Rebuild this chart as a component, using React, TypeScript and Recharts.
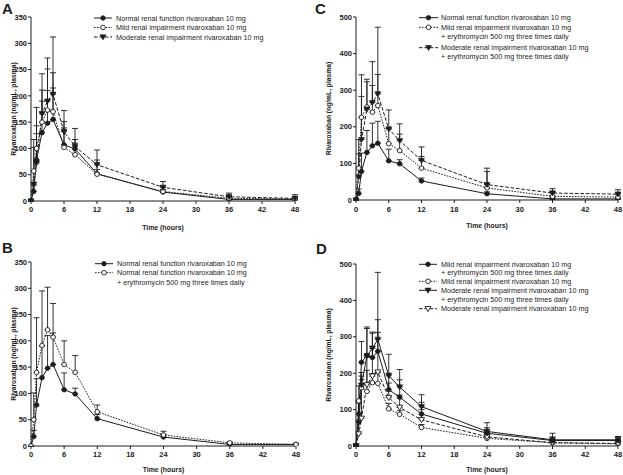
import React from 'react';
import { LineChart, Line, XAxis, YAxis, ErrorBar } from 'recharts';

// ---------- data ----------
const TIME = [0, 0.5, 1, 2, 3, 4, 6, 8, 12, 24, 36, 48];
const X_TICKS = [0, 6, 12, 18, 24, 30, 36, 42, 48];
const Y_TICKS_350 = [0, 50, 100, 150, 200, 250, 300, 350];
const Y_TICKS_500 = [0, 100, 200, 300, 400, 500];

const NORMAL = [0, 18, 78, 130, 148, 155, 107, 99, 52, 17, 3, 3];
const NORMAL_SD = [0, 12, 50, 60, 62, 60, 32, 11, 8, 5, 3, 1];

const MILD = [0, 57, 100, 150, 173, 170, 102, 88, 51, 18, 5, 4];
const MILD_SD = [0, 45, 43, 61, 78, 74, 49, 29, 27, 10, 5, 4];

const MODERATE = [0, 32, 72, 166, 190, 203, 132, 104, 69, 26, 8, 5];
const MODERATE_SD = [0, 85, 106, 76, 82, 109, 40, 34, 28, 11, 7, 7];

const NORMAL_ERY = [0, 50, 140, 191, 221, 207, 155, 140, 65, 21, 6, 3];
const NORMAL_ERY_SD = [0, 51, 104, 104, 81, 64, 45, 32, 13, 7, 2, 2];

const MILD_ERY = [0, 87, 226, 254, 240, 258, 154, 135, 87, 33, 10, 8];
const MILD_ERY_SD = [0, 78, 57, 69, 73, 85, 41, 45, 32, 45, 12, 12];

const MOD_ERY = [0, 63, 165, 248, 266, 290, 194, 162, 108, 42, 19, 16];
const MOD_ERY_SD = [0, 63, 177, 82, 112, 182, 52, 46, 37, 45, 12, 12];

const D_MILD_ERY = [0, 88, 230, 249, 243, 260, 155, 134, 88, 35, 15, 15];
const D_MILD_ERY_SD = [0, 77, 57, 78, 70, 87, 45, 48, 32, 15, 10, 11];
const D_MILD = [0, 124, 160, 150, 174, 172, 102, 87, 51, 21, 9, 6];
const D_MILD_SD = [0, 0, 32, 58, 25, 30, 15, 10, 8, 5, 3, 3];
const D_MOD_ERY = [0, 64, 167, 248, 268, 293, 193, 162, 108, 40, 17, 17];
const D_MOD_ERY_SD = [0, 62, 35, 75, 42, 184, 59, 48, 33, 24, 18, 9];
const D_MOD = [0, 33, 76, 168, 192, 203, 133, 106, 72, 25, 9, 7];
const D_MOD_SD = [0, 85, 106, 76, 82, 109, 40, 34, 28, 11, 7, 7];

const LBL_NORMAL = ['Normal renal function rivaroxaban 10 mg'];
const LBL_MILD = ['Mild renal impairment rivaroxaban 10 mg'];
const LBL_MOD = ['Moderate renal impairment rivaroxaban 10 mg'];
const LBL_NORMAL_ERY = ['Normal renal function rivaroxaban 10 mg', '+ erythromycin 500 mg three times daily'];
const LBL_MILD_ERY = ['Mild renal impairment rivaroxaban 10 mg', '+ erythromycin 500 mg three times daily'];
const LBL_MOD_ERY = ['Moderate renal impairment rivaroxaban 10 mg', '+ erythromycin 500 mg three times daily'];

// ---------- styling ----------
const FONT = '"Liberation Sans", Arial, Helvetica, sans-serif';
const INK = '#1c1c1c';
const DOTTED = '1.6 1.3';
const DASHED = '3.6 1.8';

type Kind = 'circleFilled' | 'circleOpen' | 'triFilled' | 'triOpen';

interface Series {
  key: string;
  mean: number[];
  sd: number[];
  kind: Kind;
  dash?: string;
  label: string[];
  ly: number[];
}

function Marker({ cx, cy, kind }: { cx: number; cy: number; kind: Kind }) {
  if (cx == null || cy == null) return null;
  if (kind === 'circleFilled') {
    return <circle cx={cx} cy={cy} r={2.3} fill={INK} stroke={INK} strokeWidth={0.7} />;
  }
  if (kind === 'circleOpen') {
    return <circle cx={cx} cy={cy} r={2.3} fill="#fff" stroke={INK} strokeWidth={0.9} />;
  }
  const pts = `${cx - 3},${cy - 2.2} ${cx + 3},${cy - 2.2} ${cx},${cy + 2.9}`;
  if (kind === 'triFilled') {
    return <polygon points={pts} fill={INK} stroke={INK} strokeWidth={0.6} />;
  }
  return <polygon points={pts} fill="#fff" stroke={INK} strokeWidth={0.9} />;
}

function XLabel(props: any) {
  const vb = props.viewBox || {};
  const x = vb.x + vb.width / 2;
  const y = vb.y + props.dyOff;
  return (
    <text x={x} y={y} textAnchor="middle" dominantBaseline="central" fontSize={6.9} fontWeight="bold" fill={INK} fontFamily={FONT}>
      Time (hours)
    </text>
  );
}

function YLabel(props: any) {
  const vb = props.viewBox || {};
  const x = props.labelX;
  const y = vb.y + vb.height / 2;
  return (
    <text x={x} y={y} transform={`rotate(-90 ${x} ${y})`} textAnchor="middle" dominantBaseline="central" fontSize={6.7} fontWeight="bold" fill={INK} fontFamily={FONT}>
      Rivaroxaban (ng/mL, plasma)
    </text>
  );
}

interface PanelCfg {
  letter: string;
  letterX: number;
  letterY: number;
  left: number;
  top: number;
  w: number;
  h: number;
  plotLeft: number;
  plotRight: number;
  plotTop: number;
  plotBottom: number;
  yMax: number;
  yTicks: number[];
  xTickMargin: number;
  xLabelDy: number;
  yLabelX: number;
  legX0: number;
  legX1: number;
  legTextX: number;
  series: Series[];
}

function Panel({ cfg }: { cfg: PanelCfg }) {
  const data = TIME.map((t, i) => {
    const row: any = { t };
    cfg.series.forEach((s) => {
      row[s.key] = s.mean[i];
      row[s.key + 'E'] = [0, s.sd[i]];
    });
    return row;
  });
  const tickStyle = { fontSize: 7.5, fontWeight: 'bold', fill: INK, fontFamily: FONT };
  return (
    <div style={{ position: 'absolute', left: cfg.left, top: cfg.top, width: cfg.w, height: cfg.h }}>
      <LineChart
        width={cfg.w}
        height={cfg.h}
        data={data}
        margin={{ top: cfg.plotTop, right: cfg.w - cfg.plotRight, left: 0, bottom: 0 }}
      >
        <XAxis
          type="number"
          dataKey="t"
          domain={[0, 48]}
          ticks={X_TICKS}
          interval={0}
          height={cfg.h - cfg.plotBottom}
          tickSize={3}
          tickMargin={cfg.xTickMargin}
          axisLine={{ stroke: INK, strokeWidth: 1 }}
          tickLine={{ stroke: INK, strokeWidth: 1 }}
          tick={tickStyle}
          label={<XLabel dyOff={cfg.xLabelDy} />}
        />
        <YAxis
          type="number"
          domain={[0, cfg.yMax]}
          ticks={cfg.yTicks}
          interval={0}
          allowDataOverflow
          width={cfg.plotLeft}
          tickSize={3}
          tickMargin={1}
          axisLine={{ stroke: INK, strokeWidth: 1 }}
          tickLine={{ stroke: INK, strokeWidth: 1 }}
          tick={tickStyle}
          label={<YLabel labelX={cfg.yLabelX} />}
        />
        {cfg.series.map((s) => (
          <Line
            key={s.key}
            dataKey={s.key}
            type="linear"
            stroke={INK}
            strokeWidth={1}
            strokeDasharray={s.dash}
            isAnimationActive={false}
            activeDot={false}
            dot={(p: any) => (
              <g key={`${s.key}-d-${p.index}`}>
                <Marker cx={p.cx} cy={p.cy} kind={s.kind} />
              </g>
            )}
          >
            <ErrorBar dataKey={s.key + 'E'} direction="y" width={3} stroke={INK} strokeWidth={0.9} isAnimationActive={false} />
          </Line>
        ))}
      </LineChart>
      <svg
        width={cfg.w}
        height={cfg.h}
        style={{ position: 'absolute', left: 0, top: 0, pointerEvents: 'none' }}
      >
        <text x={cfg.letterX} y={cfg.letterY} fontSize={15} fontWeight="bold" fill={INK} fontFamily={FONT}>
          {cfg.letter}
        </text>
        {cfg.series.map((s) => (
          <g key={'leg-' + s.key}>
            <line x1={cfg.legX0} x2={cfg.legX1} y1={s.ly[0]} y2={s.ly[0]} stroke={INK} strokeWidth={1} strokeDasharray={s.dash} />
            <Marker cx={(cfg.legX0 + cfg.legX1) / 2} cy={s.ly[0]} kind={s.kind} />
            {s.label.map((txt, j) => (
              <text key={j} x={cfg.legTextX} y={s.ly[j]} dominantBaseline="central" fontSize={7.2} fill={INK} fontFamily={FONT}>
                {txt}
              </text>
            ))}
          </g>
        ))}
      </svg>
    </div>
  );
}

const PANEL_A: PanelCfg = {
  letter: 'A', letterX: 2, letterY: 14,
  left: 0, top: 0, w: 311, h: 237,
  plotLeft: 31, plotRight: 295, plotTop: 17, plotBottom: 201,
  yMax: 350, yTicks: Y_TICKS_350, xTickMargin: 3, xLabelDy: 26, yLabelX: 13,
  legX0: 94, legX1: 112, legTextX: 116,
  series: [
    { key: 'normal', mean: NORMAL, sd: NORMAL_SD, kind: 'circleFilled', label: LBL_NORMAL, ly: [18] },
    { key: 'mild', mean: MILD, sd: MILD_SD, kind: 'circleOpen', dash: DOTTED, label: LBL_MILD, ly: [27.5] },
    { key: 'mod', mean: MODERATE, sd: MODERATE_SD, kind: 'triFilled', dash: DASHED, label: LBL_MOD, ly: [37] },
  ],
};

const PANEL_B: PanelCfg = {
  letter: 'B', letterX: 2, letterY: 16,
  left: 0, top: 237, w: 311, h: 238,
  plotLeft: 31, plotRight: 296, plotTop: 25, plotBottom: 209,
  yMax: 350, yTicks: Y_TICKS_350, xTickMargin: 3, xLabelDy: 23, yLabelX: 13,
  legX0: 95, legX1: 113, legTextX: 117,
  series: [
    { key: 'normal', mean: NORMAL, sd: NORMAL_SD, kind: 'circleFilled', label: LBL_NORMAL, ly: [26.7] },
    { key: 'normalEry', mean: NORMAL_ERY, sd: NORMAL_ERY_SD, kind: 'circleOpen', dash: DOTTED, label: LBL_NORMAL_ERY, ly: [35.7, 45.7] },
  ],
};

const PANEL_C: PanelCfg = {
  letter: 'C', letterX: 4, letterY: 14,
  left: 311, top: 0, w: 312, h: 237,
  plotLeft: 45, plotRight: 307, plotTop: 17, plotBottom: 200,
  yMax: 500, yTicks: Y_TICKS_500, xTickMargin: 4, xLabelDy: 25, yLabelX: 17,
  legX0: 108, legX1: 127, legTextX: 130,
  series: [
    { key: 'normal', mean: NORMAL, sd: NORMAL_SD, kind: 'circleFilled', label: LBL_NORMAL, ly: [17.7] },
    { key: 'mildEry', mean: MILD_ERY, sd: MILD_ERY_SD, kind: 'circleOpen', dash: DOTTED, label: LBL_MILD_ERY, ly: [27.3, 36.7] },
    { key: 'modEry', mean: MOD_ERY, sd: MOD_ERY_SD, kind: 'triFilled', dash: DASHED, label: LBL_MOD_ERY, ly: [47.7, 56.7] },
  ],
};

const PANEL_D: PanelCfg = {
  letter: 'D', letterX: 5, letterY: 17,
  left: 311, top: 237, w: 312, h: 238,
  plotLeft: 45, plotRight: 307, plotTop: 27, plotBottom: 209,
  yMax: 500, yTicks: Y_TICKS_500, xTickMargin: 3, xLabelDy: 23, yLabelX: 17,
  legX0: 108, legX1: 126, legTextX: 130,
  series: [
    { key: 'dMild', mean: D_MILD, sd: D_MILD_SD, kind: 'circleOpen', dash: DOTTED, label: LBL_MILD, ly: [44.3] },
    { key: 'dMod', mean: D_MOD, sd: D_MOD_SD, kind: 'triOpen', dash: DASHED, label: LBL_MOD, ly: [71.7] },
    { key: 'dMildEry', mean: D_MILD_ERY, sd: D_MILD_ERY_SD, kind: 'circleFilled', label: LBL_MILD_ERY, ly: [27.3, 35.5] },
    { key: 'dModEry', mean: D_MOD_ERY, sd: D_MOD_ERY_SD, kind: 'triFilled', label: LBL_MOD_ERY, ly: [53.3, 62] },
  ],
};

export default function App() {
  return (
    <div style={{ position: 'absolute', left: 0, top: 0, width: 623, height: 475, background: '#fff', overflow: 'hidden' }}>
      <Panel cfg={PANEL_A} />
      <Panel cfg={PANEL_B} />
      <Panel cfg={PANEL_C} />
      <Panel cfg={PANEL_D} />
    </div>
  );
}
